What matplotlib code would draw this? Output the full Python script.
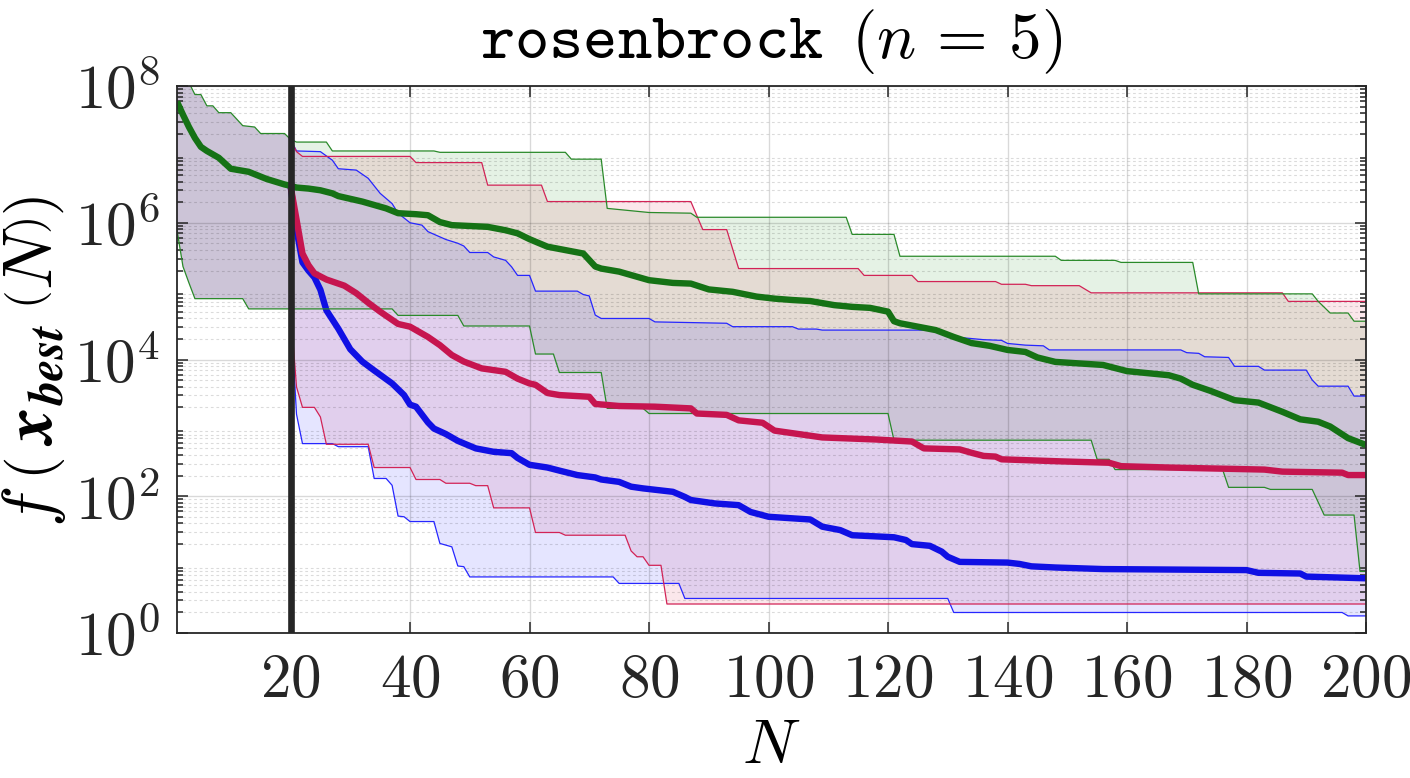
import numpy as np
import matplotlib
matplotlib.use("Agg")
import matplotlib.pyplot as plt
from matplotlib.mathtext import MathTextParser
from matplotlib.ticker import LogLocator, NullLocator

# values are (N, log10 f)
# first 20 evaluations are the shared initial design
init_max = [(1, 8.6), (2, 8.3), (3, 8.05), (4, 7.875), (5, 7.875), (6, 7.71), (7, 7.71),
            (8, 7.61), (10, 7.61), (12, 7.42), (14, 7.40), (15, 7.305), (19, 7.305), (20, 7.22)]
init_med = [(1, 7.77), (2, 7.58), (3, 7.40), (4, 7.24), (5, 7.11), (6, 7.05), (8, 6.95),
            (10, 6.79), (13, 6.745), (14, 6.71), (16, 6.64), (19, 6.56), (20, 6.54)]
init_min = [(1, 5.89), (2, 5.36), (3, 5.12), (4, 4.89), (12, 4.89), (13, 4.74), (20, 4.74)]

green_max = [(20, 7.22), (21, 7.18), (26, 7.18), (27, 7.05), (44, 7.05), (45, 7.03), (66, 7.03),
             (67, 6.93), (72, 6.93), (73, 6.21), (80, 6.15), (87, 6.14), (88, 6.08), (113, 6.08),
             (114, 5.83), (121, 5.83), (122, 5.51), (148, 5.51), (149, 5.45), (158, 5.45),
             (159, 5.42), (171, 5.42), (172, 4.96), (191, 4.96), (192, 4.85), (194, 4.68),
             (197, 4.68), (198, 4.56), (200, 4.56)]
green_med = [(20, 6.54), (21, 6.515), (23, 6.50), (25, 6.475), (27, 6.43), (28, 6.39), (30, 6.35),
             (32, 6.31), (34, 6.26), (36, 6.21), (38, 6.14), (41, 6.125), (43, 6.11), (45, 6.01),
             (47, 5.965), (53, 5.94), (56, 5.89), (58, 5.845), (60, 5.76), (63, 5.65), (66, 5.60),
             (69, 5.55), (71, 5.36), (72, 5.33), (75, 5.285), (80, 5.16), (84, 5.12), (87, 5.11),
             (90, 5.025), (94, 4.99), (98, 4.92), (101, 4.89), (104, 4.87), (107, 4.855),
             (111, 4.795), (114, 4.77), (117, 4.755), (120, 4.70), (121, 4.56), (122, 4.53),
             (125, 4.48), (128, 4.43), (131, 4.33), (134, 4.24), (137, 4.20), (140, 4.14),
             (143, 4.11), (145, 4.03), (148, 3.965), (156, 3.92), (160, 3.83), (167, 3.77),
             (169, 3.72), (171, 3.63), (174, 3.54), (178, 3.405), (182, 3.37), (186, 3.235),
             (189, 3.125), (192, 3.09), (194, 3.02), (197, 2.85), (200, 2.75)]
green_min = [(20, 4.74), (37, 4.74), (38, 4.645), (48, 4.645), (49, 4.49), (60, 4.49), (61, 4.08),
             (64, 4.08), (65, 3.81), (72, 3.81), (73, 3.285), (79, 3.285), (80, 3.21), (120, 3.21),
             (121, 2.82), (154, 2.82), (155, 2.54), (157, 2.54), (158, 2.39), (176, 2.39),
             (177, 2.13), (183, 2.13), (184, 2.10), (191, 2.10), (193, 1.725), (198, 1.725),
             (199, 0.90), (200, 0.90)]

red_max = [(20, 7.22), (21, 7.04), (22, 6.97), (40, 6.97), (41, 6.88), (52, 6.88), (53, 6.55),
           (62, 6.55), (63, 6.31), (87, 6.31), (89, 5.90), (93, 5.90), (95, 5.33), (115, 5.33),
           (116, 5.23), (124, 5.23), (125, 5.14), (138, 5.14), (139, 5.10), (143, 5.10),
           (144, 5.08), (152, 5.08), (154, 4.975), (186, 4.975), (187, 4.85), (200, 4.85)]
red_med = [(20, 6.54), (21, 6.05), (22, 5.55), (23, 5.38), (24, 5.26), (26, 5.17), (29, 5.08),
           (31, 4.97), (33, 4.83), (35, 4.70), (38, 4.52), (40, 4.48), (43, 4.33), (45, 4.21),
           (47, 4.065), (49, 3.97), (52, 3.87), (56, 3.82), (58, 3.72), (60, 3.65), (61, 3.63),
           (63, 3.51), (65, 3.48), (70, 3.455), (71, 3.35), (75, 3.32), (81, 3.31), (87, 3.285),
           (88, 3.21), (93, 3.19), (95, 3.11), (99, 3.075), (101, 2.96), (105, 2.91), (109, 2.86),
           (118, 2.83), (124, 2.80), (126, 2.70), (132, 2.685), (134, 2.635), (136, 2.59),
           (138, 2.58), (139, 2.54), (149, 2.51), (157, 2.49), (159, 2.44), (167, 2.42),
           (183, 2.39), (186, 2.36), (196, 2.345), (197, 2.31), (200, 2.31)]
red_min = [(20, 4.74), (21, 3.6), (22, 3.30), (24, 3.30), (25, 3.16), (26, 2.76), (33, 2.76),
           (34, 2.42), (40, 2.42), (41, 2.245), (45, 2.245), (46, 2.19), (50, 2.19), (51, 2.155),
           (53, 2.155), (54, 1.83), (60, 1.83), (61, 1.47), (65, 1.47), (66, 1.43), (76, 1.43),
           (77, 1.20), (78, 1.115), (79, 1.115), (80, 0.99), (82, 0.99), (83, 0.424), (200, 0.424)]

blue_max = [(20, 7.22), (21, 7.05), (25, 7.04), (27, 6.915), (28, 6.79), (31, 6.77), (33, 6.65),
            (35, 6.43), (37, 6.28), (38, 6.14), (40, 6.00), (42, 5.965), (43, 5.87), (46, 5.755),
            (48, 5.70), (49, 5.66), (50, 5.565), (53, 5.565), (54, 5.50), (56, 5.45), (57, 5.355),
            (58, 5.23), (60, 5.23), (61, 5.00), (68, 5.00), (69, 4.95), (70, 4.93), (71, 4.65),
            (72, 4.60), (80, 4.60), (81, 4.55), (93, 4.53), (94, 4.48), (104, 4.48), (105, 4.445),
            (108, 4.445), (109, 4.43), (128, 4.43), (129, 4.40), (131, 4.33), (136, 4.29),
            (139, 4.28), (140, 4.235), (143, 4.21), (146, 4.20), (147, 4.14), (169, 4.14),
            (170, 4.10), (172, 4.09), (173, 4.04), (177, 4.03), (178, 3.90), (182, 3.90),
            (183, 3.845), (190, 3.845), (191, 3.70), (192, 3.61), (197, 3.61), (198, 3.465),
            (200, 3.465)]
blue_med = [(20, 6.54), (21, 5.9), (22, 5.42), (23, 5.30), (24, 5.20), (25, 5.02), (26, 4.72),
            (28, 4.45), (30, 4.15), (32, 3.97), (34, 3.84), (37, 3.65), (39, 3.48), (40, 3.34),
            (41, 3.31), (43, 3.08), (44, 2.99), (46, 2.91), (48, 2.81), (51, 2.70), (54, 2.65),
            (57, 2.63), (58, 2.56), (60, 2.46), (63, 2.42), (65, 2.375), (68, 2.31), (71, 2.275),
            (72, 2.245), (75, 2.21), (77, 2.14), (79, 2.115), (84, 2.065), (86, 1.99), (87, 1.945),
            (91, 1.895), (95, 1.87), (97, 1.77), (100, 1.70), (107, 1.66), (109, 1.555),
            (112, 1.505), (114, 1.43), (121, 1.40), (123, 1.36), (124, 1.30), (127, 1.275),
            (129, 1.19), (130, 1.115), (132, 1.04), (140, 1.03), (142, 1.01), (144, 0.975),
            (148, 0.958), (156, 0.935), (180, 0.92), (182, 0.88), (189, 0.87), (190, 0.825),
            (200, 0.80)]
blue_min = [(20, 4.74), (21, 3.2), (22, 2.77), (27, 2.77), (28, 2.725), (33, 2.725), (34, 2.26),
            (36, 2.26), (37, 2.16), (38, 1.71), (39, 1.70), (40, 1.63), (44, 1.63), (45, 1.31),
            (47, 1.26), (48, 0.98), (49, 0.97), (50, 0.82), (74, 0.82), (75, 0.725), (85, 0.725),
            (86, 0.505), (130, 0.505), (131, 0.30), (196, 0.30), (197, 0.25), (200, 0.25)]

x_ticks = [20, 40, 60, 80, 100, 120, 140, 160, 180, 200]
y_ticks = [0, 2, 4, 6, 8]
N_init = 20


def xy(pts):
    a = np.array(pts, dtype=float)
    return a[:, 0], 10.0 ** a[:, 1]


plt.rcParams['mathtext.fontset'] = 'cm'
plt.rcParams['font.family'] = ['DejaVu Serif']

try:
    MathTextParser('path').parse(r'$\mathbfit{x}$')
    bfx = r'\mathbfit'
except Exception:
    bfx = r'\mathbf'

dark = '#262626'
fig = plt.figure(figsize=(14.1, 7.78), dpi=100)
ax = fig.add_axes([177 / 1410, 1 - 633 / 778, (1366 - 177) / 1410, (633 - 86) / 778])

methods = [
    # fill colour, thin colour, thick colour, max, med, min, zorder
    ('green', '#2a8a2a', '#157215', green_max, green_med, green_min, 5.2),
    ('crimson', '#d22356', '#c6154f', red_max, red_med, red_min, 4.2),
    ('blue', '#2626ff', '#1010e4', blue_max, blue_med, blue_min, 4.0),
]

for fc, thin, thick, mx, md, mn, z in methods:
    up = init_max + mx[1:]
    lo = init_min + mn[1:]
    xu, yu = xy(up)
    xl, yl = xy(lo)
    ax.fill(np.concatenate([xu, xl[::-1]]), np.concatenate([yu, yl[::-1]]),
            color=fc, alpha=0.1, lw=0, zorder=1)
    if fc == 'green':
        mx_l, md_l, mn_l = up, init_med + md[1:], lo
    else:
        mx_l, md_l, mn_l = mx, md, mn
    for pts in (mx_l, mn_l):
        ax.plot(*xy(pts), color=thin, lw=0.9, zorder=z - 1)
    ax.plot(*xy(md_l), color=thick, lw=4.6, zorder=z, solid_capstyle='butt')

ax.axvline(N_init, color=dark, lw=4.8, zorder=8)

ax.set_yscale('log')
ax.set_xlim(1, 200)
ax.set_ylim(1, 1e8)
ax.set_xticks(x_ticks)
ax.set_xticklabels([r'$%d$' % t for t in x_ticks])
ax.set_yticks([10.0 ** e for e in y_ticks])
ax.set_yticklabels([r'$10^{%d}$' % e for e in y_ticks])
ax.yaxis.set_minor_locator(LogLocator(base=10, subs=np.arange(2, 10), numticks=20))
ax.xaxis.set_minor_locator(NullLocator())

ax.set_axisbelow(False)
ax.grid(True, which='major', color='k', alpha=0.15, lw=1.0, zorder=1.5)
ax.grid(True, which='minor', axis='y', color='k', alpha=0.14, lw=0.8,
        linestyle=(0, (2.5, 2.5)), zorder=1.5)

for s in ax.spines.values():
    s.set_color(dark)
    s.set_linewidth(1.3)
    s.set_zorder(9)
ax.tick_params(which='both', direction='in', top=True, right=True, color=dark,
               labelcolor=dark, labelsize=44, width=1.1)
ax.tick_params(which='major', length=8)
ax.tick_params(which='minor', length=4.3)
ax.tick_params(axis='x', pad=12)
ax.tick_params(axis='y', pad=12)

fig.text(771.5 / 1410, 1 - 58 / 778, r'$\mathtt{rosenbrock}\ \,(n\,=\,5)$', ha='center',
         va='baseline', fontsize=47, color='k')
fig.text(771.5 / 1410, 0.002, r'$N$', ha='center', va='bottom', fontsize=46, color='k')
fig.text(34 / 1410, 1 - 361 / 778,
         r'$f\:\left(\:%s{x}_{%s{best}}\:\left(N\right)\right)$' % (bfx, bfx),
         ha='center', va='center', rotation=90, fontsize=50, color='k')

fig.savefig('out.png', dpi=100)
